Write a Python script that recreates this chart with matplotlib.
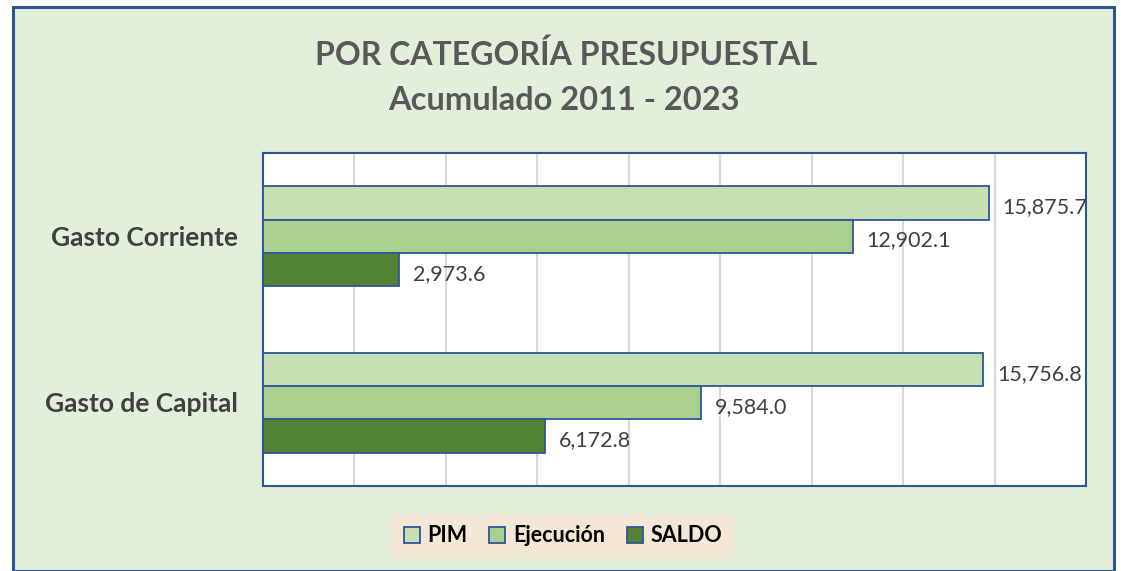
import matplotlib.pyplot as plt
from matplotlib.patches import Rectangle
import numpy as np

plt.rcParams['font.family'] = ['Lato', 'DejaVu Sans']

# datos (millones)
categorias = ['Gasto Corriente', 'Gasto de Capital']
series = ['PIM', 'Ejecución', 'SALDO']
pim = [15875.7, 15756.8]
ejecucion = [12902.1, 9584.0]
saldo = [2973.6, 6172.8]

colores = ['#C6E0B4', '#A9D08E', '#548235']
borde = '#2F5597'

W, H = 1121, 571
fig = plt.figure(figsize=(W / 100, H / 100), dpi=100)
fig.patch.set_facecolor('white')

# marco exterior del grafico
fig.patches.append(Rectangle((13 / W, 0), (1114 - 13) / W, (H - 7) / H,
                             transform=fig.transFigure, facecolor='#E2EFDA',
                             edgecolor=borde, linewidth=2.2, zorder=-5))

ax = fig.add_axes([263 / W, (H - 486) / H, (1086 - 263) / W, (486 - 153) / H])
ax.set_facecolor('white')
ax.set_zorder(1)

y = np.arange(len(categorias))
h = 0.2
valores = [pim, ejecucion, saldo]
for k in range(3):
    pos = y + (k - 1) * h
    bars = ax.barh(pos, valores[k], height=h, color=colores[k], edgecolor=borde,
                   linewidth=1.3, label=series[k], zorder=3)
    for b, v in zip(bars, valores[k]):
        ax.text(b.get_width() + 300, b.get_y() + b.get_height() / 2 + 0.025,
                f'{v:,.1f}', va='center', ha='left', fontsize=15.5,
                color='#404040', zorder=4, clip_on=False)

ax.set_xlim(0, 18000)
ax.set_ylim(len(categorias) - 0.5, -0.5)
ax.set_xticks(np.arange(0, 18001, 2000))
ax.xaxis.grid(True, color='#D9D9D9', linewidth=1.5, zorder=0)
ax.set_axisbelow(True)
ax.set_xticklabels([])
ax.tick_params(length=0)
ax.set_yticks(y)
ax.set_yticklabels([])
for spine in ax.spines.values():
    spine.set_color(borde)
    spine.set_linewidth(1.5)

# etiquetas de categoria
for yi, cat in zip(y, categorias):
    ax.text(-0.03, yi + 0.01, cat, transform=ax.get_yaxis_transform(), ha='right',
            va='center', fontsize=19, fontweight='bold', color='#404040')

fig.text(566 / W, 1 - 55 / H, 'POR CATEGORÍA PRESUPUESTAL', ha='center',
         va='center', fontsize=23, fontweight='bold', color='#595959')
fig.text(564 / W, 1 - 100 / H, 'Acumulado 2011 - 2023', ha='center',
         va='center', fontsize=23.5, fontweight='bold', color='#595959')

leg = fig.legend(loc='center', bbox_to_anchor=(563 / W, 1 - 536 / H), ncol=3,
                 frameon=True, fancybox=False,
                 prop={'weight': 'bold', 'size': 15.5},
                 handlelength=0.75, handleheight=0.75, handletextpad=0.35,
                 columnspacing=1.0, borderpad=0.5)
leg.get_frame().set_facecolor('#FBE5D6')
leg.get_frame().set_edgecolor('#FBE5D6')

fig.savefig('out.png', dpi=100)
